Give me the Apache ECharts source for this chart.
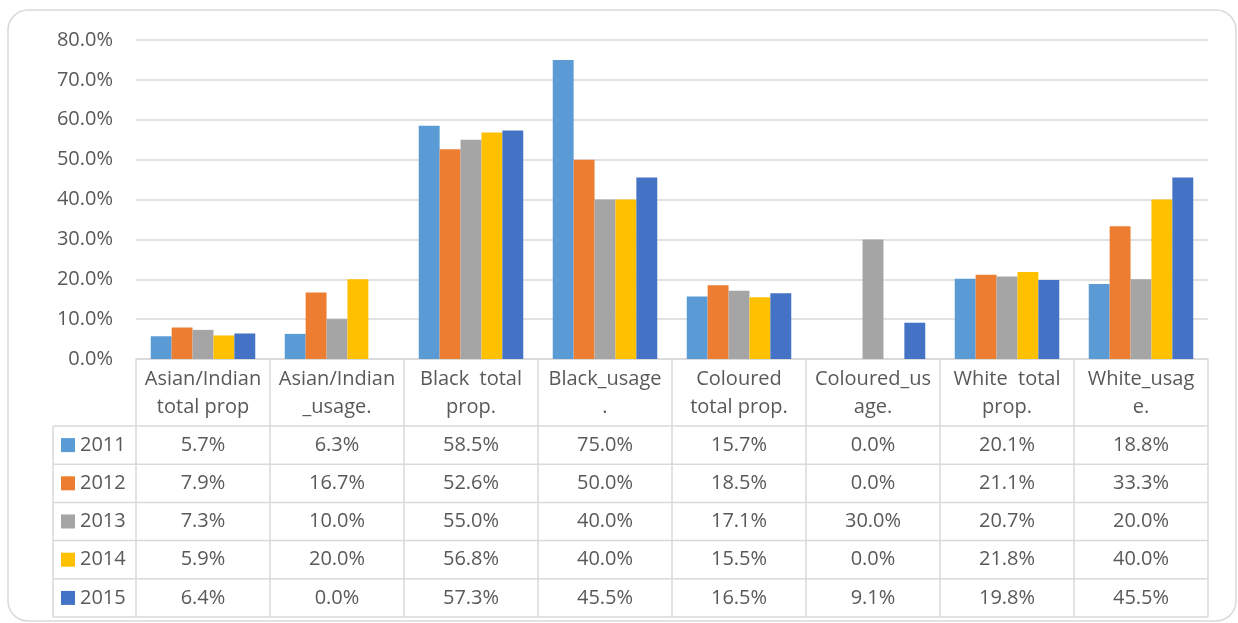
<!DOCTYPE html>
<html>
<head>
<meta charset="utf-8">
<script src="https://cdn.jsdelivr.net/npm/echarts@6/dist/echarts.min.js"></script>
<style>
  html, body { margin: 0; padding: 0; background: #fff; }
  #chart { width: 1238px; height: 623px; }
</style>
</head>
<body>
<div id="chart"></div>
<script>
// Categories and the wrapped header text shown in the data table
const categories = ['Asian/Indian total prop', 'Asian/Indian _usage.', 'Black  total prop.', 'Black_usage.',
  'Coloured total prop.', 'Coloured_usage.', 'White  total prop.', 'White_usage.'];
const headerLabels = ['Asian/Indian\ntotal prop', 'Asian/Indian\n_usage.', 'Black  total\nprop.', 'Black_usage\n.',
  'Coloured\ntotal prop.', 'Coloured_us\nage.', 'White  total\nprop.', 'White_usag\ne.'];

// Years (series) and their values, in percent
const years = ['2011', '2012', '2013', '2014', '2015'];
const values2011 = [5.7, 6.3, 58.5, 75.0, 15.7, 0.0, 20.1, 18.8];
const values2012 = [7.9, 16.7, 52.6, 50.0, 18.5, 0.0, 21.1, 33.3];
const values2013 = [7.3, 10.0, 55.0, 40.0, 17.1, 30.0, 20.7, 20.0];
const values2014 = [5.9, 20.0, 56.8, 40.0, 15.5, 0.0, 21.8, 40.0];
const values2015 = [6.4, 0.0, 57.3, 45.5, 16.5, 9.1, 19.8, 45.5];
const seriesValues = [values2011, values2012, values2013, values2014, values2015];
const colors = ['#5B9BD5', '#ED7D31', '#A5A5A5', '#FFC000', '#4472C4'];

// Y axis range (percent)
const yMin = 0, yMax = 80, yStep = 10;

const FONT = '"Open Sans", sans-serif';
const FS = 20;
const TEXT = '#595959';
const LINE = '#D9D9D9';

const chart = echarts.init(document.getElementById('chart'), null, { renderer: 'canvas' });

const option = {
  animation: false,
  color: colors,
  grid: { left: 136, right: 30, top: 40, bottom: 264, containLabel: false },
  xAxis: {
    type: 'category',
    data: categories,
    axisLine: { lineStyle: { color: LINE, width: 1.5 } },
    axisTick: { show: false },
    axisLabel: { show: false }
  },
  yAxis: {
    type: 'value',
    min: yMin, max: yMax, interval: yStep,
    axisLine: { show: false },
    axisTick: { show: false },
    axisLabel: {
      color: TEXT, fontFamily: FONT, fontSize: FS, margin: 23,
      formatter: v => v.toFixed(1) + '%'
    },
    splitLine: { lineStyle: { color: LINE, width: 1.5 } }
  },
  series: years.map((y, i) => ({
    name: y,
    type: 'bar',
    data: seriesValues[i],
    barGap: '0%',
    barCategoryGap: '22%'
  }))
};
chart.setOption(option);

// Data table below the plot, aligned with the category axis
function buildTable() {
  const c0 = chart.convertToPixel({ xAxisIndex: 0 }, 0);
  const c1 = chart.convertToPixel({ xAxisIndex: 0 }, 1);
  const colW = c1 - c0;
  const left = c0 - colW / 2;
  const right = left + colW * categories.length;
  const top = chart.convertToPixel({ yAxisIndex: 0 }, yMin);
  const headH = 67;
  const rowH = 38.2;
  const labelLeft = 53;
  const els = [];
  const font = FS + 'px ' + FONT;
  const line = (x1, y1, x2, y2) => els.push({
    type: 'line', shape: { x1, y1, x2, y2 }, style: { stroke: LINE, lineWidth: 1.5 }, silent: true
  });

  // outer rounded frame
  els.push({
    type: 'rect', shape: { x: 8, y: 10, width: 1228, height: 611, r: 20 },
    style: { fill: 'none', stroke: LINE, lineWidth: 1.5 }, silent: true, z: -1
  });

  const bottom = top + headH + rowH * years.length;
  // vertical lines
  for (let k = 0; k <= categories.length; k++) {
    const x = left + k * colW;
    line(x, top, x, bottom);
  }
  line(labelLeft, top + headH, labelLeft, bottom);
  // horizontal lines
  for (let r = 0; r <= years.length; r++) {
    const y = top + headH + r * rowH;
    line(labelLeft, y, right, y);
  }

  // header text
  headerLabels.forEach((h, k) => {
    els.push({
      type: 'text',
      style: {
        text: h, x: left + (k + 0.5) * colW, y: top + headH / 2 + 1,
        align: 'center', verticalAlign: 'middle',
        font: font, fill: TEXT, lineHeight: 28
      }, silent: true
    });
  });

  // rows: legend key, year, values
  years.forEach((y, r) => {
    const cy = top + headH + (r + 0.5) * rowH;
    els.push({
      type: 'rect', shape: { x: 61, y: cy - 7, width: 14, height: 14 },
      style: { fill: colors[r] }, silent: true
    });
    els.push({
      type: 'text',
      style: { text: y, x: 80, y: cy, align: 'left', verticalAlign: 'middle', font: font, fill: TEXT },
      silent: true
    });
    seriesValues[r].forEach((v, k) => {
      els.push({
        type: 'text',
        style: {
          text: v.toFixed(1) + '%', x: left + (k + 0.5) * colW, y: cy,
          align: 'center', verticalAlign: 'middle', font: font, fill: TEXT
        }, silent: true
      });
    });
  });
  chart.setOption({ graphic: { elements: els } });
}
buildTable();
</script>
</body>
</html>
